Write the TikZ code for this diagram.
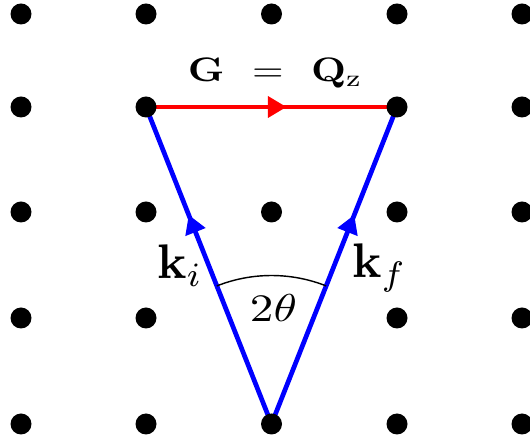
\documentclass[tikz,border=0pt]{standalone}
\usepackage{amsmath}
\usepackage{tikz}
\usetikzlibrary{arrows.meta,calc,decorations.markings}

\begin{document}
\begin{tikzpicture}[x=0.35pt,y=-0.35pt,
    latt/.style={circle,fill=black,inner sep=0pt,minimum size=7.35pt},
    vec/.style={line width=1.65pt,postaction={decorate},
      decoration={markings,mark=at position #1 with {\arrow{Triangle[length=6.5pt,width=7.2pt]}}}}]
  \clip (0,0) rectangle (530,436);
  % reciprocal lattice points
  \foreach \x [count=\i] in {21,146,271.5,397,522}
    \foreach \y [count=\j] in {14,107,212,318,424}
      \coordinate (p\i\j) at (\x,\y);
  % scattering triangle
  \draw[red,vec=0.56] (p22) -- (p42);
  \draw[blue,vec=0.66] (p35) -- (p22);
  \draw[blue,vec=0.66] (p35) -- (p42);
  \draw[line width=0.5pt] (p35) ++(-68.4:148.5) arc[start angle=-68.4,end angle=-111.6,radius=148.5];
  \foreach \i/\j in {1/1,2/1,3/1,4/1,5/1, 1/2,2/2,4/2,5/2, 1/3,2/3,3/3,4/3,5/3,
                     1/4,2/4,4/4,5/4, 1/5,2/5,3/5,4/5,5/5}
    \node[latt] (d\i\j) at (p\i\j) {};
  % labels
  \node[anchor=base,inner sep=0pt,xscale=1.42,yscale=1.19] (gq) at (275.2,81.7)
    {$\mathbf{G}\hspace{0.4em}=\hspace{0.4em}\mathbf{Q}_\mathrm{z}$};
  \node[anchor=base west,inner sep=0pt,scale=1.7] (ki) at (156.2,279) {$\mathbf{k}_i$};
  \node[anchor=base west,inner sep=0pt,scale=1.7] (kf) at (351.2,278) {$\mathbf{k}_f$};
  \node[anchor=base west,inner sep=0pt,xscale=1.65,yscale=1.36] (th) at (249,321.7) {$2\theta$};
\end{tikzpicture}
\end{document}
